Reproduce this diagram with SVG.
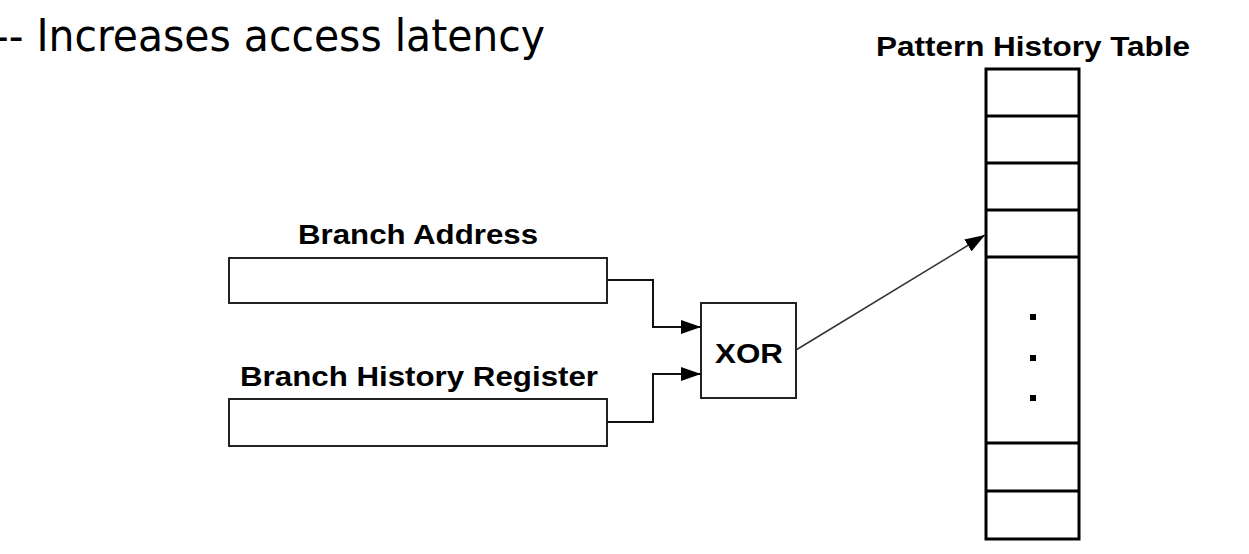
<svg xmlns="http://www.w3.org/2000/svg" width="1249" height="554" viewBox="0 0 1249 554">
<style>
.lbl{font-family:"Liberation Sans",Arial,sans-serif;font-weight:bold;font-size:27px;fill:#000}
.reg{fill:#fff;stroke:#222;stroke-width:2}
.tbl{fill:#fff;stroke:#000;stroke-width:3}
.wire{fill:none;stroke:#111;stroke-width:2}
.dot{fill:#000}
</style>
<defs>
<marker id="ah" markerWidth="20" markerHeight="14" refX="20" refY="7" orient="auto" markerUnits="userSpaceOnUse">
<path d="M0,0 L20,7 L0,14 Z" fill="#000"/>
</marker>
</defs>
<rect width="1249" height="554" fill="#fff"/>
<text x="-6" y="51" font-family="'DejaVu Sans Condensed','DejaVu Sans',sans-serif" font-size="45" textLength="551" lengthAdjust="spacingAndGlyphs" fill="#000">-- Increases access latency</text>

<g id="branch-address">
<text class="lbl" x="298" y="244" textLength="240" lengthAdjust="spacingAndGlyphs">Branch Address</text>
<rect class="reg" x="229" y="258" width="378" height="45"/>
</g>
<g id="branch-history-register">
<text class="lbl" x="240" y="386" textLength="358" lengthAdjust="spacingAndGlyphs">Branch History Register</text>
<rect class="reg" x="229" y="399" width="378" height="47"/>
</g>
<g id="xor">
<rect class="reg" x="701" y="303" width="95" height="95"/>
<text class="lbl" x="715" y="363" textLength="68" lengthAdjust="spacingAndGlyphs">XOR</text>
</g>
<g id="pattern-history-table">
<text class="lbl" x="876" y="56" font-size="26" textLength="314" lengthAdjust="spacingAndGlyphs">Pattern History Table</text>
<rect class="tbl" x="986" y="69" width="93" height="470"/>
<path d="M986,116 H1079 M986,163 H1079 M986,210 H1079 M986,257 H1079 M986,443 H1079 M986,491 H1079" stroke="#000" stroke-width="3" fill="none"/>
<rect class="dot" x="1030" y="314" width="6" height="6"/>
<rect class="dot" x="1030" y="355" width="6" height="6"/>
<rect class="dot" x="1030" y="395" width="6" height="6"/>
</g>
<g id="connectors">
<path class="wire" d="M607,280 H653 V327 H701" marker-end="url(#ah)"/>
<path class="wire" d="M607,422 H653 V374 H701" marker-end="url(#ah)"/>
<path d="M796,350 L985,235" fill="none" stroke="#333" stroke-width="1.5" marker-end="url(#ah)"/>
</g>
</svg>
